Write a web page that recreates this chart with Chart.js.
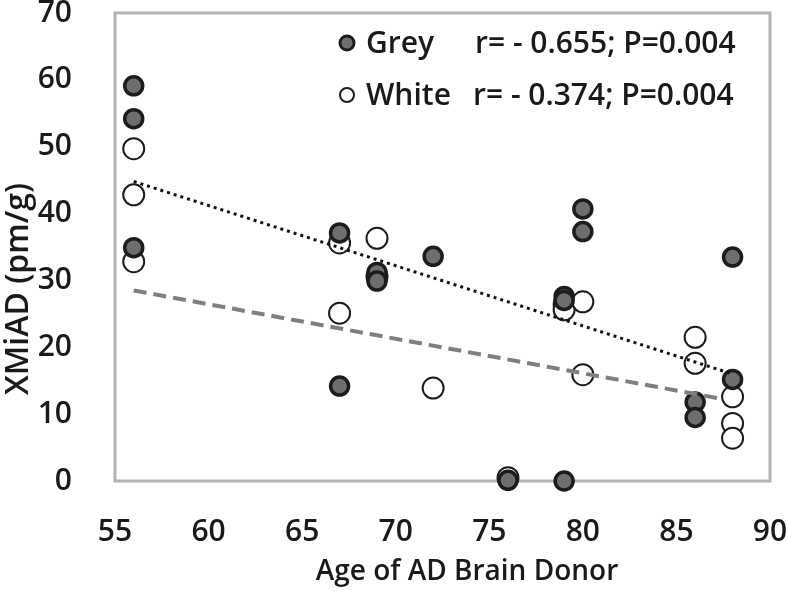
<!DOCTYPE html>
<html>
<head>
<meta charset="utf-8">
<script src="https://cdn.jsdelivr.net/npm/chart.js@4.4.1/dist/chart.umd.min.js"></script>
<style>
  html, body { margin: 0; padding: 0; background: #fff; }
  #wrap { width: 787px; height: 591px; position: relative; }
</style>
</head>
<body>
<div id="wrap"><canvas id="xmiadChart"></canvas></div>
<script>
/* ---------- data ---------- */
const greyAge   = [56, 56, 56, 67, 67, 69, 69, 72, 76, 79, 79, 79, 80, 80, 86, 86, 88, 88];
const greyVal   = [59.1, 54.2, 34.9, 37.1, 14.2, 31.2, 29.9, 33.6, 0.1, 27.6, 27.0, 0.0, 40.7, 37.3, 11.8, 9.5, 33.5, 15.2];

const whiteAge  = [56, 56, 56, 67, 67, 69, 69, 72, 76, 79, 79, 80, 80, 86, 86, 88, 88, 88];
const whiteVal  = [49.7, 42.8, 32.8, 35.6, 25.1, 36.3, 30.6, 13.9, 0.5, 26.4, 25.6, 26.8, 15.9, 21.5, 17.6, 12.6, 8.6, 6.4];

// trend lines (end points)
const greyTrendAge  = [56, 88];
const greyTrendVal  = [44.8, 16.0];
const whiteTrendAge = [56, 87.2];
const whiteTrendVal = [28.5, 12.4];

const xTicks = [55, 60, 65, 70, 75, 80, 85, 90];
const yTicks = [0, 10, 20, 30, 40, 50, 60, 70];

const seriesNames = ['Grey', 'White'];
const seriesStats = ['r= - 0.655; P=0.004', 'r= - 0.374; P=0.004'];

const xTitle = 'Age of AD Brain Donor';
const yTitle = 'XMiAD (pm/g)';

const FONT = "'Open Sans', 'DejaVu Sans', sans-serif";
const TEXT = '#1a1a1a';

const toPts = (xs, ys) => xs.map((x, i) => ({ x: x, y: ys[i] }));

/* ---------- frame, legend and axis titles ---------- */
const frameAndLegend = {
  id: 'frameAndLegend',

  beforeDatasetsDraw(chart) {
    const { ctx, chartArea: a } = chart;
    ctx.save();
    ctx.strokeStyle = '#b4b4b6';
    ctx.lineWidth = 3;
    ctx.strokeRect(a.left, a.top, a.right - a.left, a.bottom - a.top);
    ctx.restore();
  },

  afterDraw(chart) {
    const { ctx } = chart;
    ctx.save();

    // legend
    const rows = [43, 95];
    ctx.font = '600 30px ' + FONT;
    ctx.textBaseline = 'middle';
    ctx.textAlign = 'left';
    rows.forEach((yy, i) => {
      ctx.beginPath();
      ctx.arc(347, yy, 7, 0, Math.PI * 2);
      if (i === 0) {
        ctx.fillStyle = '#6e6e70';
        ctx.fill();
        ctx.lineWidth = 3;
        ctx.strokeStyle = '#1c1c1c';
      } else {
        ctx.fillStyle = '#fff';
        ctx.fill();
        ctx.lineWidth = 2;
        ctx.strokeStyle = '#1c1c1c';
      }
      ctx.stroke();
      ctx.fillStyle = TEXT;
      ctx.fillText(seriesNames[i], 366, yy + 1);
      ctx.fillText(seriesStats[i], i === 0 ? 475 : 473, yy + 1);
    });

    // axis titles
    ctx.font = '600 28px ' + FONT;
    ctx.textAlign = 'center';
    ctx.fillText(xTitle, 467, 572);

    ctx.translate(19, 289);
    ctx.rotate(-Math.PI / 2);
    ctx.font = '600 32px ' + FONT;
    ctx.fillText(yTitle, 0, 0);

    ctx.restore();
  }
};

new Chart(document.getElementById('xmiadChart'), {
  type: 'scatter',
  data: {
    datasets: [
      {
        type: 'line',
        data: toPts(greyTrendAge, greyTrendVal),
        borderColor: '#111',
        borderWidth: 3,
        borderDash: [3, 4],
        pointRadius: 0,
        fill: false,
        clip: false
      },
      {
        type: 'line',
        data: toPts(whiteTrendAge, whiteTrendVal),
        borderColor: '#7f7f80',
        borderWidth: 4,
        borderDash: [13, 7],
        pointRadius: 0,
        fill: false,
        clip: false
      },
      {
        label: seriesNames[0],
        data: toPts(greyAge, greyVal),
        pointRadius: 9,
        pointBackgroundColor: '#6e6e70',
        pointBorderColor: '#1c1c1c',
        pointBorderWidth: 3.5,
        clip: false
      },
      {
        label: seriesNames[1],
        data: toPts(whiteAge, whiteVal),
        pointRadius: 10.5,
        pointBackgroundColor: '#ffffff',
        pointBorderColor: '#1c1c1c',
        pointBorderWidth: 2,
        clip: false
      }
    ]
  },
  options: {
    responsive: true,
    maintainAspectRatio: false,
    animation: false,
    layout: { padding: { top: 13, right: 17, left: 0, bottom: 0 } },
    plugins: {
      legend: { display: false },
      tooltip: { enabled: false }
    },
    scales: {
      x: {
        type: 'linear',
        min: 55,
        max: 90,
        afterBuildTicks(scale) { scale.ticks = xTicks.map(v => ({ value: v })); },
        afterFit(scale) {
          scale.height = 110;
          scale.paddingLeft = 0;
          scale.paddingRight = 0;
        },
        grid: { display: false },
        border: { display: false },
        ticks: {
          padding: 25,
          color: TEXT,
          font: { family: FONT, size: 30, weight: '600' }
        }
      },
      y: {
        min: 0,
        max: 70,
        afterBuildTicks(scale) { scale.ticks = yTicks.map(v => ({ value: v })); },
        afterFit(scale) {
          scale.width = 115;
          scale.paddingTop = 0;
          scale.paddingBottom = 0;
        },
        grid: { display: false },
        border: { display: false },
        ticks: {
          padding: 35,
          color: TEXT,
          font: { family: FONT, size: 30, weight: '600' }
        }
      }
    }
  },
  plugins: [frameAndLegend]
});
</script>
</body>
</html>
